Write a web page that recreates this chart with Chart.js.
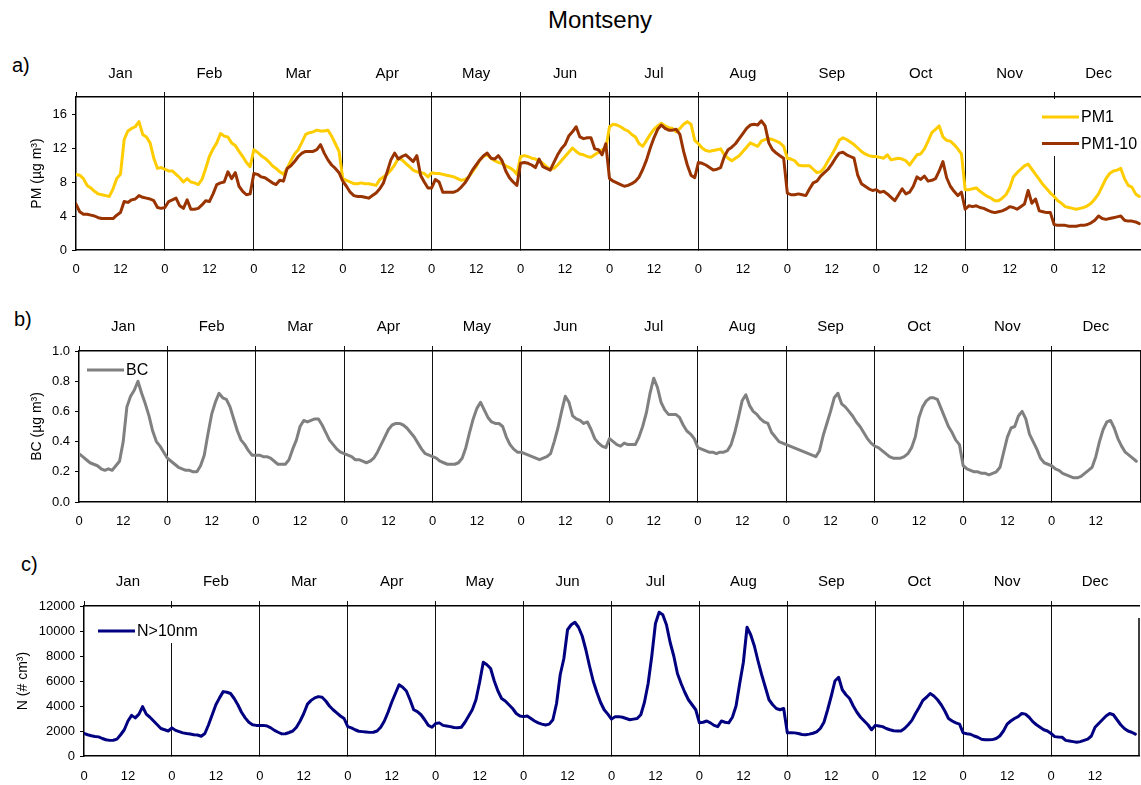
<!DOCTYPE html>
<html>
<head>
<meta charset="utf-8">
<script src="https://cdn.jsdelivr.net/npm/chart.js@4.4.1/dist/chart.umd.min.js"></script>
<style>
  html, body { margin: 0; padding: 0; background: #fff; overflow: hidden; width: 1141px; height: 785px; }
  body { position: relative; font-family: "Liberation Sans", Arial, sans-serif; }
  canvas { position: absolute; left: 0; }
  .lbl { position: absolute; color: #000; white-space: nowrap; }
</style>
</head>
<body>
<div class="lbl" style="left:500px;width:200px;text-align:center;top:7px;font-size:24px;line-height:26px;">Montseny</div>
<div class="lbl" style="left:12px;top:54px;font-size:20px;line-height:22px;">a)</div>
<div class="lbl" style="left:14px;top:308px;font-size:20px;line-height:22px;">b)</div>
<div class="lbl" style="left:21px;top:553px;font-size:20px;line-height:22px;">c)</div>

<canvas id="chartA" width="1150" height="250" style="top:40px"></canvas>
<canvas id="chartB" width="1141" height="250" style="top:290px"></canvas>
<canvas id="chartC" width="1141" height="245" style="top:540px"></canvas>

<script>
// mois (axe du haut) et heures (axe du bas)
const months = ["Jan", "Feb", "Mar", "Apr", "May", "Jun", "Jul", "Aug", "Sep", "Oct", "Nov", "Dec"];
const hourLabels = ["0", "12"];

// PM1 (µg m-3), 24 valeurs horaires par mois
const pm1 = [
  8.9, 8.8, 8.4, 7.6, 7.3, 6.9, 6.6, 6.5, 6.4, 6.3, 7.2, 8.4, 8.9, 13.0, 14.0, 14.3, 14.5, 15.1, 13.6, 13.3, 12.6, 10.8, 9.6, 9.7, // Jan
  9.5, 9.3, 9.3, 8.9, 8.5, 8.0, 8.4, 8.0, 7.9, 7.7, 8.3, 9.6, 11.0, 11.9, 12.6, 13.7, 13.4, 13.3, 12.6, 12.3, 11.6, 11.0, 10.3, 9.8, // Feb
  11.8, 11.5, 11.1, 10.8, 10.4, 9.9, 9.6, 9.2, 8.9, 9.6, 10.5, 11.3, 11.8, 12.7, 13.6, 13.8, 13.9, 14.1, 14.0, 14.0, 14.1, 13.4, 12.5, 11.6, // Mar
  8.4, 8.2, 8.0, 7.8, 7.8, 7.9, 7.8, 7.8, 7.7, 7.6, 8.3, 8.6, 8.9, 9.4, 10.0, 10.8, 10.6, 10.2, 9.8, 9.4, 9.2, 9.1, 9.0, 8.6, // Apr
  9.1, 9.0, 9.0, 8.9, 8.8, 8.7, 8.6, 8.4, 8.2, 8.3, 8.6, 9.2, 9.8, 10.6, 11.0, 11.2, 10.8, 10.5, 10.3, 10.2, 9.9, 9.7, 9.4, 8.9, // May
  11.0, 11.1, 11.0, 10.8, 10.7, 10.5, 10.2, 9.8, 9.5, 9.6, 10.0, 10.5, 11.0, 11.5, 12.0, 11.6, 11.3, 11.2, 11.0, 10.9, 11.2, 11.5, 11.8, 11.9, // Jun
  14.5, 14.8, 14.7, 14.5, 14.2, 14.0, 13.6, 13.3, 12.5, 12.2, 12.9, 13.6, 14.2, 14.6, 14.9, 14.6, 14.4, 14.3, 13.9, 14.3, 14.8, 15.1, 14.8, 12.9, // Jul
  12.5, 12.0, 11.7, 11.6, 11.7, 11.8, 11.9, 11.2, 10.8, 10.5, 10.8, 11.1, 11.6, 12.1, 12.6, 12.4, 12.2, 12.8, 13.0, 13.1, 13.0, 12.8, 12.6, 12.2, // Aug
  10.8, 10.7, 10.5, 10.0, 9.9, 9.9, 9.9, 9.5, 9.1, 9.2, 9.7, 10.5, 11.2, 12.0, 12.9, 13.2, 13.0, 12.7, 12.4, 12.0, 11.6, 11.3, 11.1, 11.0, // Sep
  11.0, 10.9, 10.8, 11.2, 10.6, 10.7, 10.8, 10.7, 10.5, 10.0, 10.6, 11.2, 11.3, 11.9, 12.8, 13.8, 14.2, 14.6, 13.3, 12.9, 12.8, 12.4, 11.9, 11.3, // Oct
  7.1, 7.1, 7.2, 7.3, 6.9, 6.6, 6.3, 6.1, 5.8, 5.8, 6.1, 6.5, 7.3, 8.6, 9.1, 9.5, 9.9, 10.1, 9.5, 8.9, 8.3, 7.7, 7.2, 6.7, // Nov
  6.3, 5.8, 5.5, 5.1, 5.0, 4.9, 4.8, 4.9, 5.0, 5.2, 5.5, 6.0, 6.6, 7.5, 8.4, 9.0, 9.3, 9.4, 9.6, 8.4, 7.6, 7.4, 6.6, 6.3  // Dec
];

// PM1-10 (µg m-3)
const pm1to10 = [
  5.4, 4.5, 4.2, 4.2, 4.1, 4.0, 3.8, 3.7, 3.7, 3.7, 3.7, 4.1, 4.4, 5.7, 5.6, 5.9, 6.0, 6.4, 6.2, 6.1, 6.0, 5.8, 5.0, 4.9,
  5.0, 5.7, 5.9, 6.1, 5.2, 4.9, 5.9, 4.8, 4.8, 4.9, 5.3, 5.8, 5.7, 6.6, 7.7, 7.9, 8.0, 9.2, 8.4, 9.1, 7.5, 6.9, 6.5, 6.6,
  9.0, 8.9, 8.6, 8.5, 8.2, 7.9, 7.7, 8.2, 8.1, 9.6, 9.9, 10.4, 11.0, 11.4, 11.6, 11.6, 11.6, 11.8, 12.4, 11.4, 10.6, 10.0, 9.6, 9.1,
  8.1, 7.5, 6.8, 6.4, 6.3, 6.3, 6.2, 6.1, 6.4, 6.7, 7.2, 7.9, 9.2, 10.6, 11.4, 10.7, 11.0, 11.2, 10.8, 10.4, 11.1, 8.8, 8.0, 7.3,
  7.3, 8.3, 8.0, 6.8, 6.8, 6.8, 6.8, 7.0, 7.4, 7.9, 8.6, 9.4, 10.0, 10.6, 11.1, 11.4, 10.8, 10.7, 11.1, 10.5, 9.3, 8.5, 8.0, 7.6,
  10.2, 10.3, 10.2, 10.0, 9.7, 10.7, 9.8, 9.6, 9.4, 10.3, 11.2, 11.9, 12.4, 13.4, 13.9, 14.5, 13.3, 13.1, 13.2, 13.2, 11.9, 11.8, 11.2, 12.5,
  8.4, 8.1, 7.9, 7.7, 7.5, 7.6, 7.8, 8.1, 8.6, 9.5, 10.6, 12.0, 13.2, 14.2, 14.7, 14.3, 14.1, 14.1, 14.2, 13.6, 11.6, 10.0, 8.8, 8.5,
  10.3, 10.2, 10.0, 9.7, 9.4, 9.5, 9.7, 11.0, 11.8, 12.1, 12.5, 13.1, 13.7, 14.3, 14.7, 14.8, 14.7, 15.2, 14.6, 12.6, 11.8, 11.4, 11.1, 10.8,
  6.7, 6.5, 6.5, 6.6, 6.5, 6.4, 7.2, 7.9, 8.1, 8.7, 9.1, 9.5, 10.1, 10.8, 11.4, 11.5, 11.2, 11.0, 10.8, 8.8, 7.8, 7.5, 7.2, 7.0,
  7.1, 6.8, 6.9, 6.6, 6.2, 5.8, 6.5, 7.2, 6.6, 6.8, 7.5, 8.6, 8.3, 8.7, 8.1, 8.2, 8.4, 9.3, 10.4, 8.5, 7.5, 6.9, 6.4, 6.8,
  4.8, 5.2, 5.1, 5.2, 5.0, 4.9, 4.7, 4.5, 4.4, 4.5, 4.6, 4.8, 5.1, 5.0, 4.8, 5.1, 5.4, 7.0, 5.5, 6.0, 4.6, 4.5, 4.4, 4.4,
  3.0, 2.9, 2.9, 2.9, 2.8, 2.8, 2.8, 2.9, 2.9, 3.0, 3.2, 3.5, 4.0, 3.7, 3.6, 3.7, 3.8, 3.9, 4.0, 3.5, 3.4, 3.4, 3.3, 3.1
];

// BC (µg m-3)
const bc = [
  0.32, 0.30, 0.28, 0.26, 0.25, 0.24, 0.22, 0.21, 0.22, 0.21, 0.24, 0.27, 0.40, 0.63, 0.70, 0.74, 0.80, 0.72, 0.65, 0.57, 0.47, 0.40, 0.37, 0.33,
  0.29, 0.27, 0.25, 0.23, 0.22, 0.21, 0.21, 0.20, 0.20, 0.24, 0.31, 0.45, 0.58, 0.66, 0.72, 0.69, 0.68, 0.63, 0.55, 0.47, 0.41, 0.38, 0.34, 0.31,
  0.31, 0.31, 0.30, 0.30, 0.29, 0.27, 0.25, 0.25, 0.25, 0.28, 0.35, 0.41, 0.50, 0.54, 0.53, 0.54, 0.55, 0.55, 0.51, 0.46, 0.41, 0.38, 0.35, 0.33,
  0.32, 0.31, 0.30, 0.28, 0.28, 0.27, 0.26, 0.27, 0.29, 0.33, 0.38, 0.43, 0.48, 0.51, 0.52, 0.52, 0.51, 0.49, 0.46, 0.43, 0.39, 0.35, 0.32, 0.31,
  0.30, 0.29, 0.27, 0.26, 0.25, 0.25, 0.25, 0.26, 0.29, 0.36, 0.46, 0.55, 0.62, 0.66, 0.61, 0.56, 0.53, 0.52, 0.52, 0.50, 0.43, 0.38, 0.35, 0.33,
  0.33, 0.32, 0.31, 0.30, 0.29, 0.28, 0.29, 0.30, 0.32, 0.40, 0.49, 0.60, 0.70, 0.66, 0.57, 0.55, 0.54, 0.52, 0.53, 0.48, 0.42, 0.39, 0.37, 0.36,
  0.42, 0.40, 0.38, 0.37, 0.39, 0.38, 0.38, 0.38, 0.43, 0.50, 0.59, 0.72, 0.82, 0.76, 0.66, 0.61, 0.58, 0.58, 0.58, 0.56, 0.51, 0.47, 0.45, 0.42,
  0.36, 0.35, 0.34, 0.33, 0.33, 0.32, 0.33, 0.33, 0.34, 0.38, 0.46, 0.56, 0.67, 0.71, 0.64, 0.60, 0.58, 0.55, 0.53, 0.52, 0.46, 0.43, 0.40, 0.39,
  0.38, 0.37, 0.36, 0.35, 0.34, 0.33, 0.32, 0.31, 0.30, 0.34, 0.44, 0.52, 0.60, 0.69, 0.72, 0.65, 0.63, 0.60, 0.57, 0.53, 0.50, 0.46, 0.42, 0.39,
  0.37, 0.36, 0.34, 0.32, 0.30, 0.29, 0.29, 0.29, 0.30, 0.32, 0.36, 0.43, 0.56, 0.63, 0.67, 0.69, 0.69, 0.68, 0.62, 0.56, 0.50, 0.46, 0.41, 0.38,
  0.24, 0.22, 0.21, 0.20, 0.20, 0.19, 0.19, 0.18, 0.19, 0.20, 0.23, 0.33, 0.43, 0.49, 0.50, 0.57, 0.60, 0.55, 0.45, 0.40, 0.35, 0.29, 0.26, 0.25,
  0.24, 0.22, 0.21, 0.19, 0.18, 0.17, 0.16, 0.16, 0.17, 0.19, 0.21, 0.23, 0.30, 0.40, 0.48, 0.53, 0.54, 0.49, 0.42, 0.37, 0.33, 0.31, 0.29, 0.27
];

// N>10nm (# cm-3)
const n10 = [
  1800, 1700, 1620, 1560, 1530, 1400, 1300, 1250, 1260, 1350, 1700, 2100, 2800, 3250, 3050, 3350, 3950, 3350, 3100, 2800, 2500, 2200, 2100, 2000,
  2250, 2050, 1950, 1850, 1800, 1760, 1700, 1680, 1580, 1800, 2500, 3300, 4100, 4650, 5150, 5100, 5000, 4600, 4100, 3500, 3050, 2700, 2500, 2450,
  2450, 2450, 2400, 2250, 2050, 1900, 1770, 1780, 1880, 2000, 2300, 2800, 3400, 4150, 4450, 4650, 4750, 4700, 4400, 4000, 3700, 3450, 3200, 3000,
  2350, 2250, 2100, 1980, 1950, 1920, 1890, 1900, 2000, 2300, 2800, 3500, 4300, 5000, 5700, 5500, 5200, 4500, 3700, 3550, 3300, 2900, 2450, 2300,
  2600, 2650, 2450, 2400, 2350, 2280, 2260, 2300, 2700, 3200, 3700, 4500, 5900, 7500, 7300, 7000, 6000, 5200, 4600, 4400, 4100, 3800, 3400, 3200,
  3150, 3200, 3000, 2800, 2650, 2550, 2480, 2550, 2900, 4200, 6500, 7800, 10100, 10500, 10700, 10300, 9600, 8500, 7200, 6000, 5100, 4300, 3700, 3350,
  2950, 3150, 3150, 3100, 3000, 2900, 2950, 3000, 3300, 4300, 5800, 8000, 10600, 11500, 11300, 10500, 9100, 8000, 6600, 5800, 5100, 4500, 4100, 3700,
  2650, 2700, 2800, 2650, 2450, 2350, 2800, 2700, 2650, 3100, 4000, 5800, 7500, 10300, 9700, 8800, 7600, 6500, 5500, 4500, 4100, 3800, 3700, 3800,
  1850, 1870, 1850, 1800, 1720, 1700, 1750, 1820, 1930, 2200, 2700, 3700, 4800, 6000, 6300, 5300, 4900, 4600, 4000, 3500, 3100, 2800, 2500, 2100,
  2450, 2400, 2350, 2200, 2100, 2020, 2000, 2000, 2200, 2500, 2850, 3400, 3900, 4450, 4700, 5000, 4800, 4500, 4100, 3600, 3000, 2800, 2650, 2550,
  1850, 1780, 1740, 1600, 1500, 1340, 1300, 1300, 1310, 1400, 1600, 2000, 2550, 2800, 3000, 3150, 3400, 3350, 3100, 2750, 2500, 2300, 2100, 2000,
  1800, 1550, 1520, 1500, 1250, 1200, 1150, 1100, 1150, 1250, 1350, 1600, 2300, 2600, 2900, 3200, 3400, 3300, 2900, 2500, 2200, 2000, 1900, 1750
];

Chart.defaults.font.family = '"Liberation Sans", Arial, sans-serif';
Chart.defaults.color = "#000";

// index horaire (0..287) -> point
function toPoints(arr) {
  return arr.map((v, i) => ({ x: i, y: v }));
}

// legende dans le cadre, avec fond blanc comme dans Excel
// + bord droit du cadre (partiel pour le graphe c)
const insideLegend = {
  id: "insideLegend",
  afterDraw(chart, args, opts) {
    const ctx = chart.ctx;
    const area = chart.chartArea;
    ctx.save();
    if (opts.rightFrom !== undefined) {
      ctx.strokeStyle = "#000";
      ctx.lineWidth = 1.5;
      ctx.beginPath();
      ctx.moveTo(area.right, area.top + opts.rightFrom);
      ctx.lineTo(area.right, area.bottom);
      ctx.stroke();
    }
    if (opts.box) {
      ctx.fillStyle = "#fff";
      ctx.fillRect(opts.box[0], opts.box[1], opts.box[2], opts.box[3]);
    }
    ctx.font = '16px "Liberation Sans", Arial, sans-serif';
    ctx.textBaseline = "middle";
    chart.data.datasets.forEach((ds, i) => {
      const y = opts.y + i * opts.gap;
      ctx.strokeStyle = ds.borderColor;
      ctx.lineWidth = 3;
      ctx.beginPath();
      ctx.moveTo(opts.x, y);
      ctx.lineTo(opts.x + opts.len, y);
      ctx.stroke();
      ctx.fillStyle = "#000";
      ctx.fillText(ds.label, opts.x + opts.len + 2, y + 1);
    });
    ctx.restore();
  }
};

function makeChart(id, o) {
  return new Chart(document.getElementById(id), {
    type: "line",
    data: { datasets: o.datasets },
    options: {
      responsive: false,
      animation: false,
      events: [],
      layout: { padding: { left: 0, top: 0, bottom: 0, right: o.padRight } },
      plugins: { legend: { display: false }, tooltip: { enabled: false }, insideLegend: o.legend },
      elements: {
        point: { radius: 0 },
        line: { tension: 0, borderWidth: 3, borderJoinStyle: "round", borderCapStyle: "round" }
      },
      scales: {
        x: {
          type: "linear", position: "bottom", min: 0, max: 288,
          afterFit: (s) => { s.height = o.bottomH; s.paddingLeft = 0; s.paddingRight = 0; },
          ticks: {
            stepSize: 12, maxTicksLimit: 30, autoSkip: false, maxRotation: 0,
            padding: o.bottomPad, font: { size: 13 },
            callback: (v) => (v >= 288 ? "" : hourLabels[(v % 24) / 12])
          },
          grid: {
            color: (c) => (c.tick && c.tick.value % 24 === 0 && c.tick.value > 0 &&
              (c.tick.value < 288 || o.rightBorder)) ? "#111" : "rgba(0,0,0,0)",
            lineWidth: 1,
            tickLength: 0
          },
          border: { display: true, color: "#000", width: 1.5 }
        },
        xTop: {
          type: "linear", position: "top", min: 0, max: 288,
          afterFit: (s) => { s.height = o.topH; s.paddingLeft = 0; s.paddingRight = 0; },
          ticks: {
            stepSize: 12, maxTicksLimit: 30, autoSkip: false, maxRotation: 0,
            padding: o.topPad, font: { size: 15 },
            callback: (v) => (v % 24 === 12 ? months[(v - 12) / 24] : "")
          },
          grid: {
            drawOnChartArea: false,
            tickLength: 5,
            tickColor: (c) => (c.tick && c.tick.value % 24 === 0 && c.tick.value < 288) ? "#111" : "rgba(0,0,0,0)"
          },
          border: { display: true, color: "#000", width: 1.5 }
        },
        y: {
          min: 0, max: o.yMax,
          afterFit: (s) => { s.width = o.leftW; },
          afterBuildTicks: (s) => { s.ticks = s.ticks.filter((t) => t.value <= o.yTop + 1e-9); },
          ticks: { stepSize: o.yStep, padding: 5, font: { size: 13 }, callback: o.yFmt },
          grid: { drawOnChartArea: false, tickLength: 4, color: "#000" },
          border: { color: "#000", width: 1.5 },
          title: {
            display: true, text: o.yTitle, font: { size: 14 },
            padding: { top: o.titlePad, bottom: 0 }
          }
        }
      }
    },
    plugins: [insideLegend]
  });
}

// a) PM
makeChart("chartA", {
  datasets: [
    { label: "PM1", data: toPoints(pm1), borderColor: "#FFCC00", order: 2 },
    { label: "PM1-10", data: toPoints(pm1to10), borderColor: "#993300", order: 1 }
  ],
  padRight: 7, topH: 57, bottomH: 40, topPad: 9, bottomPad: 12, leftW: 76,
  yMax: 18, yTop: 16, yStep: 4, yFmt: (v) => String(v),
  yTitle: "PM (µg m³)", titlePad: 29, rightBorder: false,
  legend: { x: 1042, y: 77, gap: 26.5, len: 37, box: [1035, 59, 115, 57] }
});

// b) BC
makeChart("chartB", {
  datasets: [
    { label: "BC", data: toPoints(bc), borderColor: "#808080" }
  ],
  padRight: 1, topH: 61, bottomH: 38, topPad: 10, bottomPad: 12, leftW: 79,
  yMax: 1.0, yTop: 1.0, yStep: 0.2, yFmt: (v) => v.toFixed(1),
  yTitle: "BC (µg m³)", titlePad: 29, rightBorder: true,
  legend: { x: 87, y: 80, gap: 0, len: 37 }
});

// c) N>10nm
makeChart("chartC", {
  datasets: [
    { label: "N>10nm", data: toPoints(n10), borderColor: "#000080" }
  ],
  padRight: 2, topH: 66, bottomH: 29, topPad: 10, bottomPad: 13, leftW: 84,
  yMax: 12000, yTop: 12000, yStep: 2000, yFmt: (v) => String(v),
  yTitle: "N (# cm³)", titlePad: 15, rightBorder: false,
  legend: { x: 98, y: 91, gap: 0, len: 37, box: [88, 68, 118, 35], rightFrom: 12 }
});
</script>
</body>
</html>
